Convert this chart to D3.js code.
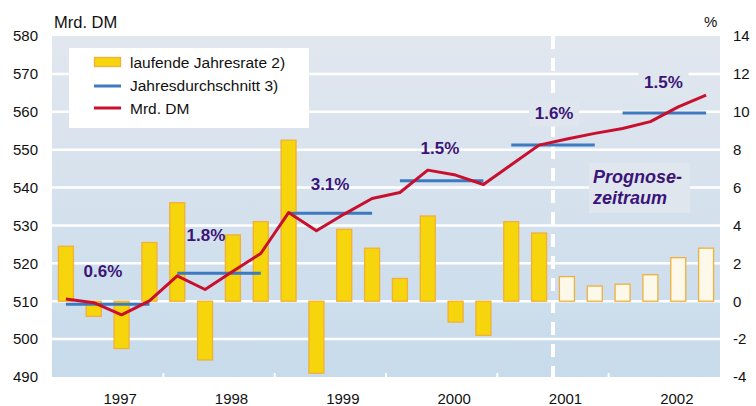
<!DOCTYPE html>
<html><head><meta charset="utf-8">
<script src="https://cdn.jsdelivr.net/npm/d3@7/dist/d3.min.js"></script>
<style>body{margin:0;background:#fff}svg{display:block;font-family:Arial,"Liberation Sans",sans-serif}</style>
</head><body>
<svg id="c" width="756" height="406"></svg>
<script>
// ---- data ----
const years = ["1997","1998","1999","2000","2001","2002"];
// quarterly running annual rate (%), right axis
const rates = [2.9,-0.8,-2.5,3.1, 5.2,-3.1,3.5,4.2, 8.5,-3.8,3.8,2.8, 1.2,4.5,-1.1,-1.8, 4.2,3.6,1.3,0.8, 0.9,1.4,2.3,2.8];
// forecast flag per quarter (open bars)
const forecast = [0,0,0,0, 0,0,0,0, 0,0,0,0, 0,0,0,0, 0,0,1,1, 1,1,1,1];
// level, Mrd. DM, left axis
const level = [510.6,509.6,506.4,510.1, 516.7,513.1,517.9,522.6, 533.4,528.6,533.0,537.1, 538.7,544.6,543.3,540.8, 546.0,551.2,552.8,554.3, 555.6,557.4,561.3,564.4];
// annual average, Mrd. DM
const annualAvg = [509.2,517.4,533.2,541.8,551.2,559.7];
const growthLabels = ["0.6%","1.8%","3.1%","1.5%","1.6%","1.5%"];
const leftTicks = [490,500,510,520,530,540,550,560,570,580];
const rightTicks = [-4,-2,0,2,4,6,8,10,12,14];

// annotation anchors (quarter index, Mrd. DM)
const labelAnchor = [[1.83,516.4],[5.53,525.9],[9.99,539.3],[13.94,548.8],[18.04,558.2],[21.97,566.3]];
const labelBoxed = [0,0,0,0,1,1];

const svg = d3.select("#c");
const L = 52, R = 720, T = 36, B = 377;
const x = d3.scaleLinear().domain([0,24]).range([L,R]);
const y = d3.scaleLinear().domain([490,580]).range([B,T]);
const yr = d3.scaleLinear().domain([-4,14]).range([B,T]);

const defs = svg.append("defs");
const g = defs.append("linearGradient").attr("id","bg").attr("x1",0).attr("x2",0).attr("y1",0).attr("y2",1);
g.append("stop").attr("offset","0%").attr("stop-color","#e2e7ef");
g.append("stop").attr("offset","100%").attr("stop-color","#c7dbeb");

svg.append("rect").attr("x",L).attr("y",T).attr("width",R-L).attr("height",B-T).attr("fill","url(#bg)");

// gridlines
svg.append("g").selectAll("line").data(leftTicks.filter(d=>d>490&&d<580)).join("line")
  .attr("x1",L).attr("x2",R).attr("y1",d=>y(d)).attr("y2",d=>y(d))
  .attr("stroke","#fff").attr("stroke-width",2.5);

// bottom year ticks
svg.append("g").selectAll("line").data(d3.range(1,6)).join("line")
  .attr("x1",d=>x(d*4)).attr("x2",d=>x(d*4)).attr("y1",B).attr("y2",B-4)
  .attr("stroke","#fff").attr("stroke-width",2);

// forecast dashed line
svg.append("line").attr("x1",x(18)).attr("x2",x(18)).attr("y1",T).attr("y2",B)
  .attr("stroke","#fff").attr("stroke-width",4).attr("stroke-dasharray","13,9");

// Prognose box
svg.append("rect").attr("x",589).attr("y",163).attr("width",101).attr("height",50).attr("fill","#dfe6ee");
const pt = svg.append("text").attr("fill","#3c1478").attr("font-size",18).attr("font-weight","bold").attr("font-style","italic");
pt.append("tspan").attr("x",593).attr("y",183).text("Prognose-");
pt.append("tspan").attr("x",593).attr("y",204).text("zeitraum");

// bars
const bw = 15;
svg.append("g").selectAll("rect").data(rates).join("rect")
  .attr("x",(d,i)=>x(i+0.5)-bw/2).attr("width",bw)
  .attr("y",d=>Math.min(yr(d),yr(0))).attr("height",d=>Math.abs(yr(d)-yr(0)))
  .attr("fill",(d,i)=>forecast[i]?"#fdf9ea":"#f6d50c")
  .attr("stroke","#f0b03a").attr("stroke-width",1.3);

// annual average
svg.append("g").selectAll("line").data(annualAvg).join("line")
  .attr("x1",(d,i)=>x(i*4+0.5)).attr("x2",(d,i)=>x(i*4+3.5))
  .attr("y1",d=>y(d)).attr("y2",d=>y(d))
  .attr("stroke","#3d7abf").attr("stroke-width",3);

// level line
svg.append("path").datum(level)
  .attr("d",d3.line().x((d,i)=>x(i+0.5)).y(d=>y(d)))
  .attr("fill","none").attr("stroke","#c8102e").attr("stroke-width",3).attr("stroke-linejoin","round");

// growth labels
const gl = svg.append("g");
growthLabels.forEach((t,i)=>{
  const cx = x(labelAnchor[i][0]), by = y(labelAnchor[i][1]);
  if(labelBoxed[i]) gl.append("rect").attr("x",cx-25).attr("y",by-18).attr("width",50).attr("height",26).attr("fill","#dfe6ee");
  gl.append("text").attr("x",cx).attr("y",by).attr("text-anchor","middle")
    .attr("font-size",17).attr("font-weight","bold").attr("fill","#3c1478").text(t);
});

// legend
const lg = svg.append("g");
lg.append("rect").attr("x",69).attr("y",48).attr("width",240).attr("height",80).attr("fill","#fff");
lg.append("rect").attr("x",94.5).attr("y",57.5).attr("width",26).attr("height",9).attr("fill","#f6d50c").attr("stroke","#f0b03a").attr("stroke-width",1.3);
lg.append("line").attr("x1",94).attr("x2",121).attr("y1",86).attr("y2",86).attr("stroke","#3d7abf").attr("stroke-width",3);
lg.append("line").attr("x1",94).attr("x2",121).attr("y1",108).attr("y2",108).attr("stroke","#c8102e").attr("stroke-width",3);
[["laufende Jahresrate 2)",67.5],["Jahresdurchschnitt 3)",91],["Mrd. DM",113.5]].forEach(([t,yy])=>{
  lg.append("text").attr("x",130).attr("y",yy).attr("font-size",15.5).attr("fill","#111").text(t);
});

// axes
const fmt = d => String(d);
const la = svg.append("g").attr("transform",`translate(${L},0)`)
  .call(d3.axisLeft(y).tickValues(leftTicks).tickFormat(fmt).tickSize(0).tickPadding(14));
la.select(".domain").remove();
la.selectAll("text").attr("font-size",15).attr("fill","#111").attr("font-family","Arial, 'Liberation Sans', sans-serif");

const ra = svg.append("g").attr("transform",`translate(${R},0)`)
  .call(d3.axisRight(yr).tickValues(rightTicks).tickFormat(fmt).tickSize(0).tickPadding(13));
ra.select(".domain").remove();
ra.selectAll("text").attr("font-size",15).attr("fill","#111").attr("font-family","Arial, 'Liberation Sans', sans-serif");

// year labels
svg.append("g").selectAll("text").data(years).join("text")
  .attr("x",(d,i)=>x(i*4+2.45)).attr("y",404).attr("text-anchor","middle")
  .attr("font-size",15).attr("fill","#111").text(d=>d);

svg.append("text").attr("x",54).attr("y",28).attr("font-size",16.5).attr("fill","#111").text("Mrd. DM");
svg.append("text").attr("x",704).attr("y",27).attr("font-size",15).attr("fill","#111").text("%");
</script>
</body></html>
